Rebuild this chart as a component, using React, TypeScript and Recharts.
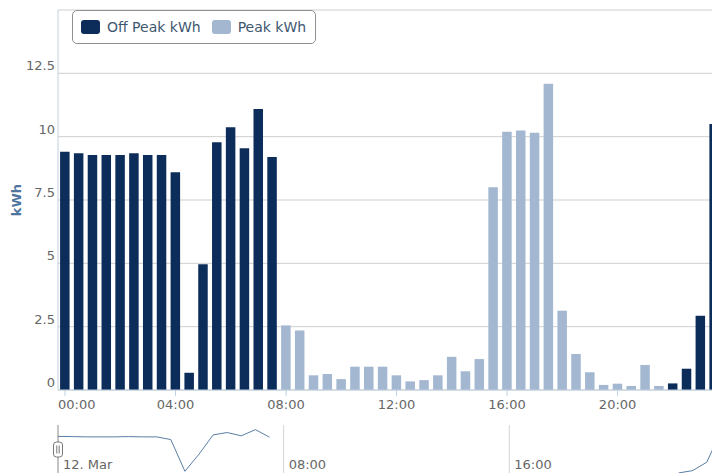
import React from 'react';
import {
  BarChart,
  Bar,
  LineChart,
  Line,
  XAxis,
  YAxis,
  CartesianGrid,
  ReferenceLine,
} from 'recharts';

// half-hour slots, in hours from midnight
const slots = [
  0, 0.5, 1, 1.5, 2, 2.5, 3, 3.5, 4, 4.5, 5, 5.5, 6, 6.5, 7, 7.5,
  8, 8.5, 9, 9.5, 10, 10.5, 11, 11.5, 12, 12.5, 13, 13.5, 14, 14.5, 15, 15.5,
  16, 16.5, 17, 17.5, 18, 18.5, 19, 19.5, 20, 20.5, 21, 21.5, 22, 22.5, 23, 23.5,
];

const offPeak = [
  9.4, 9.35, 9.28, 9.28, 9.28, 9.35, 9.28, 9.28, 8.6, 0.68, 4.96, 9.78, 10.37, 9.54, 11.09, 9.2,
  null, null, null, null, null, null, null, null, null, null, null, null, null, null, null, null,
  null, null, null, null, null, null, null, null, null, null, null, null, 0.26, 0.84, 2.93, 10.5,
];

const peak = [
  null, null, null, null, null, null, null, null, null, null, null, null, null, null, null, null,
  2.55, 2.35, 0.58, 0.63, 0.43, 0.92, 0.92, 0.92, 0.58, 0.34, 0.39, 0.58, 1.31, 0.74, 1.22, 8.0,
  10.19, 10.24, 10.15, 12.09, 3.13, 1.42, 0.7, 0.2, 0.25, 0.16, 0.99, 0.16, null, null, null, null,
];

const yTicks = [0, 2.5, 5, 7.5, 10, 12.5, 15];
const xTicks = [0, 4, 8, 12, 16, 20];
const navTicks = [8, 16];

const OFF_COLOR = '#0c2c5a';
const PEAK_COLOR = '#a3b7d1';
const LABEL_COLOR = '#666666';
const FONT = '"DejaVu Sans", Verdana, sans-serif';

const data = slots.map((t, i) => ({ t, offPeak: offPeak[i], peak: peak[i] }));

const hhmm = (h: number) => `${String(h).padStart(2, '0')}:00`;

const XTick = (props: any) => {
  const { x, y, payload, index } = props;
  const first = index === 0;
  return (
    <text
      x={first ? 58 : x}
      y={y + 11}
      textAnchor={first ? 'start' : 'middle'}
      fill={LABEL_COLOR}
      fontSize={13}
      fontFamily={FONT}
    >
      {hhmm(payload.value)}
    </text>
  );
};

const YTick = (props: any) => {
  const { y, payload } = props;
  if (payload.value === 15) return null;
  return (
    <text x={55} y={y - 3} textAnchor="end" fill={LABEL_COLOR} fontSize={13} fontFamily={FONT}>
      {payload.value}
    </text>
  );
};

const YTitle = (props: any) => {
  const cy = props.viewBox.y + props.viewBox.height / 2;
  return (
    <text
      x={16}
      y={cy}
      transform={`rotate(-90 16 ${cy})`}
      textAnchor="middle"
      dominantBaseline="central"
      fill="#4d759e"
      fontSize={13}
      fontWeight="bold"
      fontFamily={FONT}
    >
      kWh
    </text>
  );
};

const NavLabel = (text: string, handle: boolean) => (props: any) => {
  const { x, y } = props.viewBox;
  return (
    <g>
      {handle && (
        <g>
          <rect x={x - 4.5} y={y + 17} width={9} height={15} rx={3} fill="#fff" stroke="#777" />
          <line x1={x - 1.2} y1={y + 20.5} x2={x - 1.2} y2={y + 28.5} stroke="#777" />
          <line x1={x + 1.2} y1={y + 20.5} x2={x + 1.2} y2={y + 28.5} stroke="#777" />
        </g>
      )}
      <text x={x + 5} y={y + 44} fill={LABEL_COLOR} fontSize={13} fontFamily={FONT}>
        {text}
      </text>
    </g>
  );
};

const Swatch = ({ color }: { color: string }) => (
  <span
    style={{
      display: 'inline-block',
      width: 19,
      height: 14,
      borderRadius: 3,
      background: color,
      marginRight: 7,
    }}
  />
);

const App: React.FC = () => {
  return (
    <div
      style={{
        position: 'relative',
        width: 712,
        height: 473,
        overflow: 'hidden',
        background: '#fff',
        fontFamily: FONT,
      }}
    >
      <style>{'body{margin:0}'}</style>

      <div style={{ position: 'absolute', left: 0, top: 0 }}>
        <BarChart width={760} height={420} data={data} margin={{ top: 10, right: 0, bottom: 0, left: 0 }}>
          <CartesianGrid vertical={false} stroke="#cfcfcf" />
          <XAxis
            type="number"
            dataKey="t"
            domain={[-0.253, 25.154]}
            ticks={xTicks}
            allowDataOverflow
            height={30}
            tickSize={6}
            stroke="#c0d0e0"
            tick={<XTick />}
          />
          <YAxis
            width={58}
            domain={[0, 15]}
            ticks={yTicks}
            tickLine={false}
            stroke="#c0d0e0"
            tick={<YTick />}
            label={<YTitle />}
          />
          <Bar dataKey="offPeak" name="Off Peak kWh" stackId="kwh" fill={OFF_COLOR} barSize={9.5} isAnimationActive={false} />
          <Bar dataKey="peak" name="Peak kWh" stackId="kwh" fill={PEAK_COLOR} barSize={9.5} isAnimationActive={false} />
        </BarChart>
      </div>

      <div style={{ position: 'absolute', left: 0, top: 425 }}>
        <LineChart width={760} height={49} data={data} margin={{ top: 0, right: 0, bottom: 0, left: 58 }}>
          <XAxis type="number" dataKey="t" domain={[0, 24.89]} hide allowDataOverflow />
          <YAxis domain={[0, 12.25]} hide />
          <ReferenceLine x={0} stroke="#888" label={NavLabel('12. Mar', true)} />
          {navTicks.map((h) => (
            <ReferenceLine key={h} x={h} stroke="#d4d4d4" label={NavLabel(hhmm(h), false)} />
          ))}
          <Line
            type="linear"
            dataKey="offPeak"
            stroke="#5b7da6"
            strokeWidth={1}
            dot={false}
            isAnimationActive={false}
          />
        </LineChart>
      </div>

      <div
        style={{
          position: 'absolute',
          left: 72,
          top: 10,
          width: 244,
          height: 34,
          boxSizing: 'border-box',
          border: '1px solid #909090',
          borderRadius: 5,
          background: '#fff',
          display: 'flex',
          alignItems: 'center',
          paddingLeft: 8,
          fontSize: 14,
          color: '#3e576f',
        }}
      >
        <Swatch color={OFF_COLOR} />
        <span style={{ marginRight: 11 }}>Off Peak kWh</span>
        <Swatch color={PEAK_COLOR} />
        <span>Peak kWh</span>
      </div>
    </div>
  );
};

export default App;
